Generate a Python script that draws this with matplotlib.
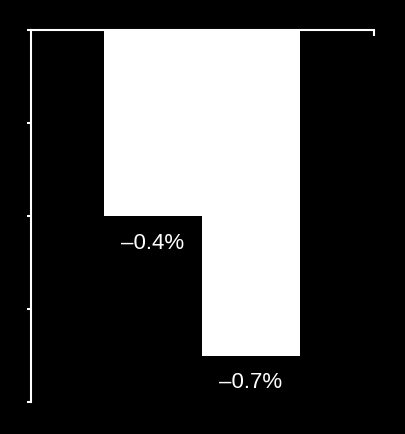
import matplotlib
matplotlib.use("Agg")
import matplotlib.pyplot as plt

# data
categories = ["A", "B"]
values = [-0.4, -0.7]
labels = ["\u20130.4%", "\u20130.7%"]
yticks = [0, -0.2, -0.4, -0.6, -0.8]

plt.rcParams['font.family'] = ['Liberation Sans', 'DejaVu Sans']

W, H = 405, 435
fig = plt.figure(figsize=(W / 100, H / 100), dpi=100, facecolor='black')
ax = fig.add_axes([31 / W, 1 - 403 / H, (374 - 31) / W, (403 - 31) / H])
ax.set_facecolor('black')

x = list(range(len(categories)))
ax.bar(x, values, width=1.0, color='white', edgecolor='none')

for xi, v, lab in zip(x, values, labels):
    ax.annotate(lab, (xi, v), xytext=(0, -11.5), textcoords='offset points',
                ha='center', va='top', color='white', fontsize=16)

ax.set_xlim(-1.245, 2.255)
ax.set_ylim(-0.8, 0)

# spines: left and the zero line on top
for side in ['right', 'bottom']:
    ax.spines[side].set_visible(False)
for side in ['left', 'top']:
    ax.spines[side].set_color('white')
    ax.spines[side].set_linewidth(1.5)

ax.set_yticks(yticks)
ax.set_yticklabels([])
ax.tick_params(axis='y', colors='white', length=3, width=1.5, direction='out')

# x axis at top, single tick at right end pointing down
ax.xaxis.tick_top()
ax.set_xticks([2.255])
ax.set_xticklabels([])
ax.tick_params(axis='x', colors='white', length=4, width=1.5, direction='in')

fig.savefig('out.png', dpi=100, facecolor='black')
